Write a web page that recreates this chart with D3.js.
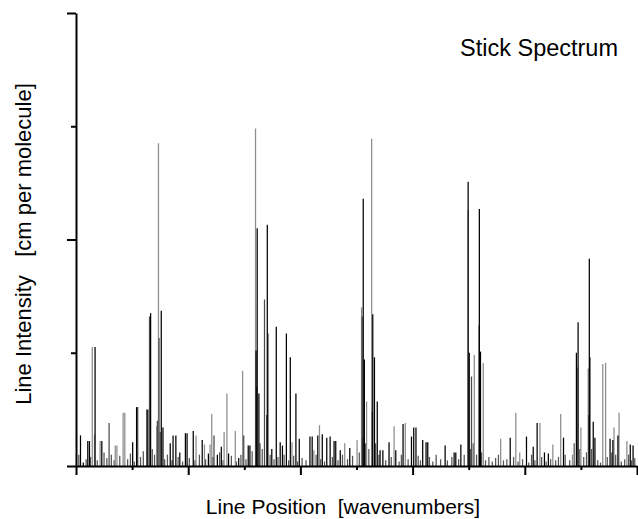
<!DOCTYPE html>
<html>
<head>
<meta charset="utf-8">
<script src="https://cdn.jsdelivr.net/npm/d3@7"></script>
<style>
    body { margin: 0; background: #fff; }
    svg text { font-family: "Liberation Sans", Arial, sans-serif; fill: #000; white-space: pre; }
</style>
</head>
<body>
<div id="chart"></div>
<script>
// Stick spectrum: [position, intensity] pairs
const xTicks = [0, 1, 2, 3, 4, 5, 6, 7, 8, 9, 10];
const yTicks = [0, 1, 2, 3, 4];

// light grey sticks (drawn first)
const greySticks = [
    [0.29, 1.05], [0.33, 0.28], [0.43, 0.22], [0.70, 0.18], [0.73, 0.18],
    [0.84, 0.47], [0.87, 0.47], [1.44, 0.35], [1.47, 2.85], [2.14, 0.27],
    [2.29, 0.19], [2.39, 0.19], [2.42, 0.46], [2.64, 0.30], [2.69, 0.64],
    [2.84, 0.31], [2.97, 0.84], [3.20, 2.98], [3.43, 1.17], [3.85, 0.21],
    [4.24, 0.14], [4.34, 0.36], [4.79, 0.20], [5.01, 0.23], [5.09, 1.40],
    [5.18, 0.57], [5.27, 2.89], [5.67, 0.35], [5.87, 0.38], [6.99, 2.26],
    [7.10, 0.98], [7.18, 1.24], [7.26, 0.91], [7.57, 0.24], [7.84, 0.47],
    [7.91, 0.12], [8.27, 0.38], [8.50, 0.19], [8.64, 0.46], [8.85, 0.10],
    [8.94, 0.87], [9.00, 0.34], [9.13, 0.86], [9.39, 0.90], [9.44, 0.91],
    [9.59, 0.34], [9.68, 0.47], [9.82, 0.22]
];

// dark grey sticks
const darkSticks = [
    [0.59, 0.38], [1.10, 0.52], [1.26, 0.50], [1.31, 1.32], [1.45, 0.40],
    [1.48, 1.13], [1.50, 0.30], [2.46, 0.27], [2.99, 0.27], [3.22, 0.70],
    [3.36, 1.47], [3.40, 0.45], [5.10, 1.32], [5.11, 0.25], [5.28, 0.48],
    [7.05, 0.79], [9.14, 0.45]
];

// black sticks
const blackSticks = [
    [0.08, 0.27], [0.13, 0.03], [0.21, 0.22], [0.24, 0.22], [0.34, 1.05],
    [0.46, 0.22], [1.01, 0.21], [1.08, 0.52], [1.28, 0.50], [1.33, 1.35],
    [1.52, 1.37], [1.55, 0.34], [1.68, 0.20], [1.73, 0.27], [1.78, 0.27],
    [1.85, 0.12], [1.95, 0.29], [1.98, 0.29], [2.09, 0.31], [2.25, 0.23],
    [2.36, 0.11], [2.52, 0.10], [2.59, 0.17], [2.72, 0.11], [2.90, 0.07],
    [3.07, 0.18], [3.10, 0.18], [3.21, 1.02], [3.23, 2.10], [3.26, 0.64],
    [3.41, 2.13], [3.49, 0.15], [3.57, 1.23], [3.64, 0.21], [3.68, 0.18],
    [3.75, 1.17], [3.82, 0.96], [3.92, 0.64], [3.98, 0.24], [4.17, 0.26],
    [4.21, 0.26], [4.31, 0.27], [4.39, 0.28], [4.47, 0.25], [4.53, 0.26],
    [4.60, 0.22], [4.63, 0.22], [4.71, 0.14], [4.88, 0.16], [5.12, 2.36],
    [5.14, 0.94], [5.29, 1.34], [5.32, 0.96], [5.37, 0.57], [5.42, 0.14],
    [5.47, 0.14], [5.58, 0.21], [5.70, 0.14], [5.83, 0.37], [5.98, 0.26],
    [6.02, 0.34], [6.06, 0.34], [6.18, 0.23], [6.24, 0.21], [6.27, 0.21],
    [6.58, 0.18], [6.74, 0.12], [6.77, 0.12], [6.86, 0.19], [6.99, 2.51],
    [7.01, 1.00], [7.19, 2.27], [7.21, 1.01], [7.74, 0.25], [8.03, 0.26],
    [8.15, 0.17], [8.22, 0.38], [8.35, 0.12], [8.42, 0.11], [8.69, 0.25],
    [8.92, 1.00], [8.95, 1.27], [9.15, 1.83], [9.16, 0.96], [9.22, 0.39],
    [9.25, 0.25], [9.52, 0.24], [9.57, 0.23], [9.66, 0.27], [9.88, 0.19],
    [9.93, 0.18]
];

// weak lines crowding the baseline
const weakSticks = [
    [0.05, 0.10], [0.18, 0.06], [0.26, 0.08], [0.38, 0.05], [0.50, 0.12],
    [0.55, 0.07], [0.63, 0.10], [0.68, 0.05], [0.78, 0.09], [0.92, 0.06],
    [0.97, 0.11], [1.04, 0.04], [1.15, 0.08], [1.20, 0.13], [1.36, 0.15],
    [1.40, 0.10], [1.58, 0.06], [1.63, 0.10], [1.71, 0.05], [1.82, 0.08],
    [1.90, 0.04], [2.02, 0.07], [2.12, 0.05], [2.20, 0.10], [2.31, 0.06],
    [2.44, 0.08], [2.56, 0.12], [2.62, 0.05], [2.77, 0.09], [2.86, 0.04],
    [2.94, 0.10], [3.03, 0.06], [3.14, 0.13], [3.28, 0.20], [3.32, 0.15],
    [3.46, 0.10], [3.53, 0.06], [3.60, 0.08], [3.71, 0.10], [3.79, 0.05],
    [3.88, 0.09], [3.95, 0.04], [4.03, 0.07], [4.10, 0.05], [4.28, 0.10],
    [4.36, 0.06], [4.43, 0.04], [4.57, 0.08], [4.67, 0.05], [4.75, 0.10],
    [4.84, 0.06], [4.93, 0.09], [5.05, 0.12], [5.16, 0.20], [5.22, 0.15],
    [5.34, 0.20], [5.40, 0.10], [5.52, 0.05], [5.62, 0.08], [5.76, 0.04],
    [5.80, 0.10], [5.92, 0.06], [6.10, 0.09], [6.14, 0.05], [6.30, 0.08],
    [6.36, 0.04], [6.42, 0.10], [6.50, 0.06], [6.62, 0.05], [6.70, 0.08],
    [6.82, 0.06], [6.92, 0.10], [7.03, 0.15], [7.08, 0.20], [7.14, 0.10],
    [7.23, 0.12], [7.30, 0.05], [7.36, 0.08], [7.42, 0.04], [7.48, 0.07],
    [7.53, 0.10], [7.62, 0.05], [7.68, 0.06], [7.80, 0.08], [7.88, 0.04],
    [7.96, 0.06], [8.07, 0.03], [8.12, 0.10], [8.18, 0.05], [8.30, 0.08],
    [8.38, 0.04], [8.46, 0.06], [8.55, 0.05], [8.60, 0.08], [8.72, 0.10],
    [8.80, 0.05], [8.88, 0.20], [8.98, 0.15], [9.05, 0.08], [9.10, 0.12],
    [9.19, 0.15], [9.30, 0.05], [9.35, 0.03], [9.47, 0.08], [9.55, 0.12],
    [9.62, 0.10], [9.72, 0.04], [9.78, 0.06], [9.85, 0.10], [9.90, 0.05],
    [9.96, 0.07]
];

const series = [
    { data: weakSticks, color: '#555' },
    { data: greySticks, color: '#8c8c8c' },
    { data: darkSticks, color: '#4a4a4a' },
    { data: blackSticks, color: '#000' }
];

const width = 638, height = 519;
const margin = { top: 13, right: 1, bottom: 53, left: 76 };

const svg = d3.select('#chart').append('svg')
    .attr('width', width)
    .attr('height', height);

const x = d3.scaleLinear().domain([0, 10]).range([margin.left, width - margin.right]);
const y = d3.scaleLinear().domain([0, 4]).range([height - margin.bottom, margin.top]);

// sticks
series.forEach(s => {
    svg.append('g')
        .selectAll('line')
        .data(s.data)
        .enter()
        .append('line')
        .attr('x1', d => x(d[0]))
        .attr('x2', d => x(d[0]))
        .attr('y1', y(0))
        .attr('y2', d => y(d[1]))
        .attr('stroke', s.color)
        .attr('stroke-width', 1.25);
});

// axes: long ticks on even values, short ones between
const xAxis = svg.append('g')
    .attr('transform', `translate(0,${y(0)})`)
    .call(d3.axisBottom(x).tickValues(xTicks).tickFormat('').tickSizeOuter(0));
xAxis.selectAll('.tick line')
    .attr('y2', d => d % 2 === 0 ? 9 : 4);

const yAxis = svg.append('g')
    .attr('transform', `translate(${x(0)},0)`)
    .call(d3.axisLeft(y).tickValues(yTicks).tickFormat('').tickSizeOuter(0));
yAxis.selectAll('.tick line')
    .attr('x2', d => d % 2 === 0 ? -9 : -5);

svg.selectAll('.domain, .tick line')
    .attr('stroke', '#000')
    .attr('stroke-width', 2);

// labels
svg.append('text')
    .attr('x', 460)
    .attr('y', 56)
    .style('font-size', '23.5px')
    .text('Stick Spectrum');

svg.append('text')
    .attr('x', 343)
    .attr('y', 514)
    .attr('text-anchor', 'middle')
    .style('font-size', '21px')
    .text('Line Position  [wavenumbers]');

svg.append('text')
    .attr('transform', 'translate(31,244) rotate(-90)')
    .attr('text-anchor', 'middle')
    .style('font-size', '22px')
    .text('Line Intensity   [cm per molecule]');
</script>
</body>
</html>
